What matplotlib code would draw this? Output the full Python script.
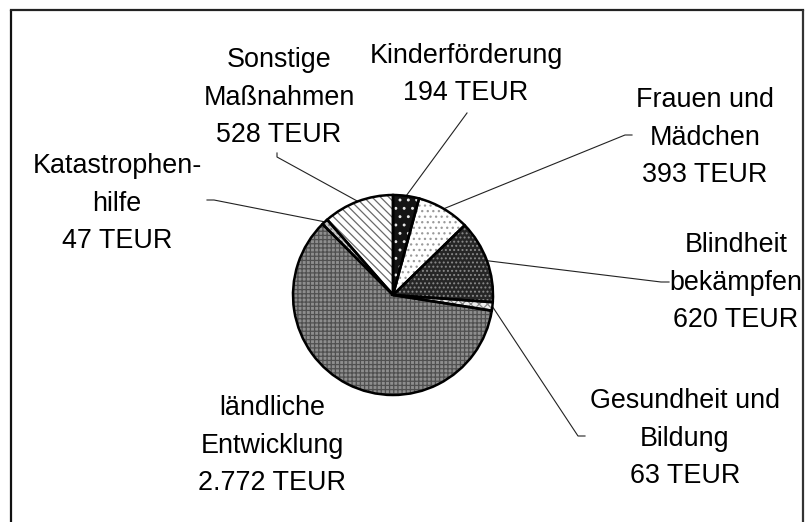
import matplotlib
matplotlib.use("Agg")
import matplotlib.pyplot as plt
import numpy as np

# ---- data ----
categories = ["Kinderförderung", "Frauen und\nMädchen", "Blindheit\nbekämpfen",
              "Gesundheit und\nBildung", "ländliche\nEntwicklung",
              "Katastrophen-\nhilfe", "Sonstige\nMaßnahmen"]
values = [194, 393, 620, 63, 2772, 47, 528]
unit = "TEUR"

# ---- styles ----
face_colors = ["#141414", "#ffffff", "#262626", "#eeeeee", "#8e8e8e", "#c4c4c4", "#ffffff"]
hatch_colors = ["#e8e8e8", "#9a9a9a", "#8a8a8a", "#8a8a8a", "#505050", "#7a7a7a", "#6a6a6a"]
hatches = ["..", "...", "....", "xxxx", "++++", "....", "\\\\\\\\"]

W, H = 808, 522
def Y(p):
    return H - p

# label positions (pixel coords): x center, LAST-line baseline y
label_pos = [(466, 100), (705, 182), (736, 327),
             (685, 483), (272, 490), (117, 248),
             (279, 142)]
# leader line anchors near labels (pixel coords), line ends at wedge edge
leader_start = [[(467, 113)],
                [(632, 135), (625, 135)],
                [(669, 282), (661, 282)],
                [(585, 436), (578, 436)],
                None,
                [(207, 200), (214, 200)],
                [(277, 153), (277, 157)]]

plt.rcParams["font.family"] = ["Liberation Sans", "DejaVu Sans"]
plt.rcParams["hatch.linewidth"] = 0.9

fig = plt.figure(figsize=(W / 100, H / 100), dpi=100)
ax = fig.add_axes([0, 0, 1, 1])

center = (393, Y(295))
radius = 100

wedges, _ = ax.pie(values, colors=face_colors, startangle=90, counterclock=False,
                   center=center, radius=radius,
                   wedgeprops=dict(linewidth=0))
for w, hc, hp in zip(wedges, hatch_colors, hatches):
    w.set_edgecolor(hc)
    w.set_hatch(hp)
    w.set_linewidth(0)

outline, _ = ax.pie(values, startangle=90, counterclock=False,
                    center=center, radius=radius,
                    wedgeprops=dict(fill=False, edgecolor="black", linewidth=1.8))

ax.set_xlim(0, W)
ax.set_ylim(0, H)
ax.set_aspect("auto")
ax.axis("off")

# frame
ax.plot([11, 11], [Y(522), Y(10)], color="#111111", lw=1.6, solid_capstyle="butt")
ax.plot([11, 803], [Y(10), Y(10)], color="#222222", lw=1.6, solid_capstyle="projecting")
ax.plot([803, 803], [Y(10), Y(522)], color="#333333", lw=1.6, solid_capstyle="butt")

fs = 19.4
for cat, v, (x, yb), ls, w in zip(categories, values, label_pos, leader_start, wedges):
    txt = cat + "\n" + f"{v:,}".replace(",", ".") + " " + unit
    ax.text(x, Y(yb), txt, ha="center", va="baseline", multialignment="center",
            fontsize=fs, linespacing=1.57, color="black")
    if ls is not None:
        mid = np.deg2rad((w.theta1 + w.theta2) / 2)
        ex = center[0] + radius * np.cos(mid)
        ey = center[1] + radius * np.sin(mid)
        xs = [p[0] for p in ls] + [ex]
        ys = [Y(p[1]) for p in ls] + [ey]
        ax.plot(xs, ys, color="#222222", lw=0.8, zorder=0.5)

fig.savefig("out.png", dpi=100)
